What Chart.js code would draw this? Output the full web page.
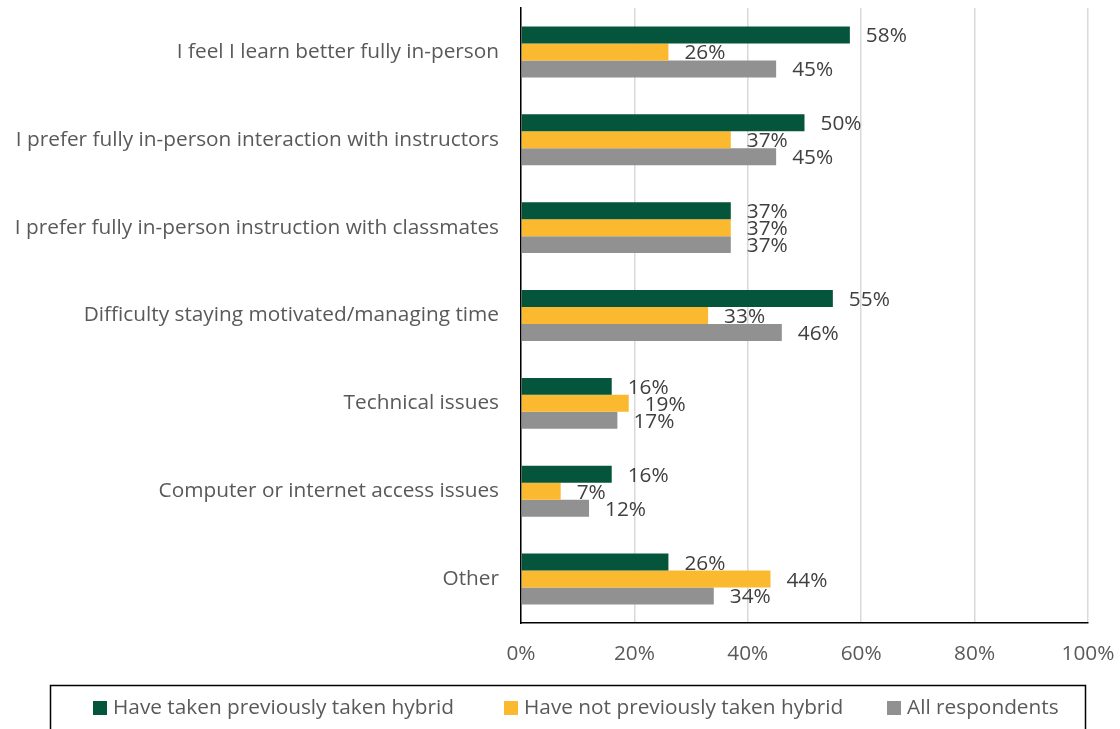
<!DOCTYPE html>
<html>
<head>
<meta charset="utf-8">
<script src="https://cdn.jsdelivr.net/npm/chart.js@4.4.1/dist/chart.umd.min.js"></script>
<style>
  html, body { margin: 0; padding: 0; background: #ffffff; }
  #wrap { width: 1120px; height: 729px; position: relative; overflow: hidden; }
</style>
</head>
<body>
<div id="wrap"><canvas id="chart" width="1120" height="729"></canvas></div>
<script>
// Reasons given, one row per reason
const categories = [
  'I feel I learn better fully in-person',
  'I prefer fully in-person interaction with instructors',
  'I prefer fully in-person instruction with classmates',
  'Difficulty staying motivated/managing time',
  'Technical issues',
  'Computer or internet access issues',
  'Other'
];

// Share of respondents per group (%)
const tookHybrid    = [58, 50, 37, 55, 16, 16, 26];
const notTookHybrid = [26, 37, 37, 33, 19, 7, 44];
const allRespondents = [45, 45, 37, 46, 17, 12, 34];

const seriesNames = [
  'Have taken previously taken hybrid',
  'Have not previously taken hybrid',
  'All respondents'
];

const tickLabels = ['0%', '20%', '40%', '60%', '80%', '100%'];

const COLORS = ['#04553B', '#FBB92F', '#919191'];
const FONT = '"Open Sans", Lato, "DejaVu Sans", sans-serif';
const FONT_SIZE = 20.8;

// Value labels placed just past the end of each bar
const valueLabels = {
  id: 'valueLabels',
  afterDatasetsDraw(chart) {
    const ctx = chart.ctx;
    ctx.save();
    ctx.font = FONT_SIZE + 'px ' + FONT;
    ctx.fillStyle = '#404040';
    ctx.textAlign = 'left';
    ctx.textBaseline = 'middle';
    chart.data.datasets.forEach((ds, i) => {
      const meta = chart.getDatasetMeta(i);
      meta.data.forEach((bar, j) => {
        ctx.fillText(ds.data[j] + '%', bar.x + 16, bar.y + 1.5);
      });
    });
    ctx.restore();
  }
};

// Boxed legend along the bottom edge
const boxedLegend = {
  id: 'boxedLegend',
  afterDraw(chart) {
    const ctx = chart.ctx;
    ctx.save();
    ctx.strokeStyle = '#000000';
    ctx.lineWidth = 1.5;
    ctx.strokeRect(50.5, 685.5, 1035, 80);
    ctx.font = FONT_SIZE + 'px ' + FONT;
    ctx.textBaseline = 'middle';
    ctx.textAlign = 'left';
    const xs = [93, 504, 887];
    chart.data.datasets.forEach((ds, i) => {
      ctx.fillStyle = ds.backgroundColor;
      ctx.fillRect(xs[i], 701, 14, 14);
      ctx.fillStyle = '#595959';
      ctx.fillText(ds.label, xs[i] + 20, 708);
    });
    ctx.restore();
  }
};

function noEdgePadding(scale) {
  scale.paddingTop = 0;
  scale.paddingBottom = 0;
  scale.paddingLeft = 0;
  scale.paddingRight = 0;
}

new Chart(document.getElementById('chart'), {
  type: 'bar',
  data: {
    labels: categories,
    datasets: [
      { label: seriesNames[0], data: tookHybrid, backgroundColor: COLORS[0] },
      { label: seriesNames[1], data: notTookHybrid, backgroundColor: COLORS[1] },
      { label: seriesNames[2], data: allRespondents, backgroundColor: COLORS[2] }
    ]
  },
  options: {
    indexAxis: 'y',
    responsive: false,
    animation: false,
    devicePixelRatio: 1,
    layout: { padding: { top: 8, right: 32, bottom: 0, left: 0 } },
    datasets: { bar: { categoryPercentage: 0.58, barPercentage: 1.0 } },
    plugins: {
      legend: { display: false },
      tooltip: { enabled: false }
    },
    scales: {
      x: {
        min: 0,
        max: 100,
        afterFit(scale) { scale.height = 106; noEdgePadding(scale); },
        afterBuildTicks(scale) {
          scale.ticks = tickLabels.map((t, i) => ({ value: i * 20 }));
        },
        ticks: {
          padding: 19,
          color: '#595959',
          font: { family: FONT, size: FONT_SIZE },
          maxRotation: 0,
          callback: (v, i) => tickLabels[i]
        },
        grid: { color: '#D9D9D9', lineWidth: 1.5, drawTicks: false },
        border: { display: true, color: '#000000', width: 1.5 }
      },
      y: {
        afterFit(scale) { scale.width = 521; noEdgePadding(scale); },
        ticks: {
          padding: 22,
          color: '#595959',
          font: { family: FONT, size: FONT_SIZE }
        },
        grid: { display: false, drawTicks: false },
        border: { display: true, color: '#000000', width: 1.5 }
      }
    }
  },
  plugins: [valueLabels, boxedLegend]
});
</script>
</body>
</html>
